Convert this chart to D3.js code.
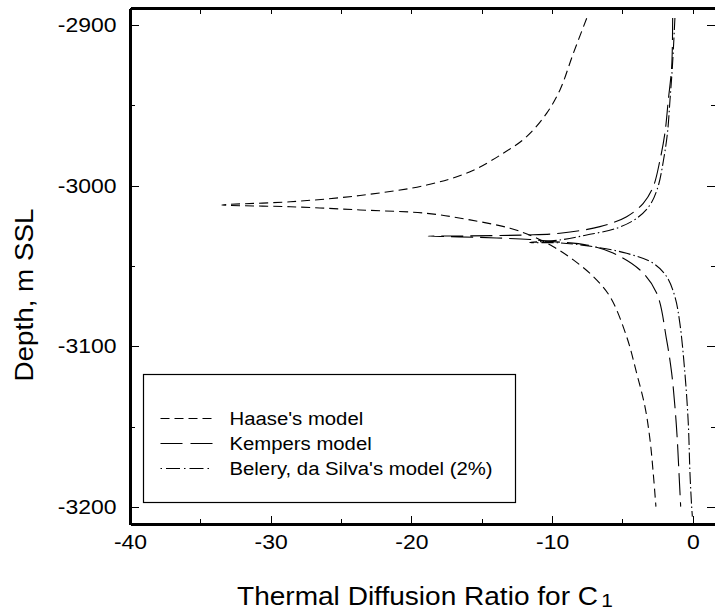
<!DOCTYPE html>
<meta charset="utf-8">
<html>

<head>
    <script src="https://cdn.jsdelivr.net/npm/d3@7"></script>
    <style>
        body {
            margin: 0;
            background: white;
            font-family: Arial, 'Liberation Sans', sans-serif;
        }

        .axis path,
        .axis line {
            stroke: black;
            shape-rendering: crispEdges;
        }

        .curve {
            fill: none;
            stroke: black;
            stroke-width: 1.1;
        }
    </style>
</head>

<body>
    <svg width="715" height="615"></svg>

    <script>
        // tick labels
        const xTicks = [-40, -30, -20, -10, 0];
        const xMinor = [-35, -25, -15, -5];
        const yTicks = [-2900, -3000, -3100, -3200];
        const yMinor = [-2950, -3050, -3150];

        // [thermal diffusion ratio, depth], top branch -> tip -> lower branch
        const haase = [
            [-7.54, -2895.8], [-8.49, -2917.6], [-9.44, -2940.4], [-10.38, -2954.8],
            [-11.81, -2969.5], [-13.47, -2979.8], [-15.83, -2991.3], [-18.91, -2999.6],
            [-23.65, -3006.1], [-28.6, -3010.0], [-33.48, -3012.0],
            [-28.6, -3013.1], [-23.65, -3015.1], [-18.91, -3017.2], [-15.83, -3021.3],
            [-12.99, -3026.5], [-11.34, -3031.7], [-9.91, -3038.0], [-8.49, -3046.2],
            [-7.07, -3056.6], [-5.88, -3069.1], [-4.70, -3094.0], [-3.99, -3116.7],
            [-3.40, -3137.5], [-3.04, -3158.2], [-2.81, -3179.0], [-2.62, -3199.8]
        ];
        const kempers = [
            [-1.43, -2895.6], [-1.50, -2926.0], [-1.74, -2946.7], [-1.98, -2967.2],
            [-2.33, -2984.0], [-2.81, -3000.6], [-3.52, -3011.0], [-4.70, -3019.3],
            [-6.60, -3025.5], [-9.44, -3029.6], [-11.81, -3030.7], [-16.55, -3031.3],
            [-18.8, -3031.4],
            [-15.12, -3032.2], [-11.57, -3033.5], [-9.94, -3034.8], [-7.54, -3036.9],
            [-5.67, -3041.9], [-3.75, -3052.5], [-2.57, -3066.8], [-1.86, -3096.0],
            [-1.50, -3116.7], [-1.27, -3137.5], [-1.10, -3158.2], [-0.98, -3179.0],
            [-0.86, -3199.8]
        ];
        const belery = [
            [-1.27, -2895.6], [-1.45, -2926.0], [-1.62, -2946.7], [-1.80, -2967.2],
            [-2.08, -2984.0], [-2.47, -3000.6], [-3.04, -3012.0], [-3.99, -3020.3],
            [-5.41, -3026.5], [-7.54, -3030.7], [-9.44, -3033.8], [-11.6, -3035.4],
            [-9.44, -3035.6], [-7.07, -3038.0], [-4.70, -3042.1], [-2.81, -3048.3],
            [-1.86, -3056.6], [-1.27, -3069.1], [-0.92, -3085.6], [-0.56, -3116.7],
            [-0.32, -3147.9], [-0.20, -3179.0], [-0.08, -3199.8], [-0.03, -3206.0]
        ];

        const seriesNames = ["Haase's model", "Kempers model", "Belery, da Silva's model (2%)"];
        const seriesData = [haase, kempers, belery];
        const dashes = ["9,5", "22,7", "12,3,1.5,3"];
        const legendDashes = ["9,5", "22,8", "1.5,4,14,4"];

        const svg = d3.select("svg");
        const width = +svg.attr("width");
        const height = +svg.attr("height");
        const margin = { top: 8, right: -1, bottom: 91, left: 130 };
        const innerWidth = width - margin.left - margin.right;
        const innerHeight = height - margin.top - margin.bottom;

        const xScale = d3.scaleLinear().domain([-40, 1.65]).range([0, innerWidth]);
        const yScale = d3.scaleLinear().domain([-3210.6, -2889.4]).range([innerHeight, 0]);

        const g = svg.append("g").attr("transform", `translate(${margin.left},${margin.top})`);

        const fmt = d => String(d);

        // frame and ticks
        function addAxis(axis, transform, keepDomain, keepText) {
            const a = g.append("g")
                .attr("class", "axis")
                .attr("transform", transform)
                .call(axis)
                .attr("font-family", "Arial, 'Liberation Sans', sans-serif")
                .attr("font-size", 20.5);
            if (!keepDomain) a.select(".domain").remove();
            if (!keepText) a.selectAll("text").remove();
            a.selectAll("text").attr("fill", "black");
            return a;
        }

        const bottomAxis = addAxis(d3.axisBottom(xScale).tickValues(xTicks).tickFormat(fmt)
            .tickSizeInner(-8).tickSizeOuter(0).tickPadding(10), `translate(0,${innerHeight})`, true, true);
        addAxis(d3.axisBottom(xScale).tickValues(xMinor).tickSizeInner(-5).tickSizeOuter(0),
            `translate(0,${innerHeight})`, false, false);
        addAxis(d3.axisTop(xScale).tickValues(xTicks.concat(xMinor)).tickSizeInner(-6).tickSizeOuter(0),
            null, true, false);

        const leftAxis = addAxis(d3.axisLeft(yScale).tickValues(yTicks).tickFormat(fmt)
            .tickSizeInner(-9).tickSizeOuter(0).tickPadding(12), null, true, true);
        addAxis(d3.axisLeft(yScale).tickValues(yMinor).tickSizeInner(-5).tickSizeOuter(0),
            null, false, false);
        addAxis(d3.axisRight(yScale).tickValues(yTicks).tickSizeInner(-9).tickSizeOuter(0),
            `translate(${innerWidth},0)`, false, false);
        addAxis(d3.axisRight(yScale).tickValues(yMinor).tickSizeInner(-5).tickSizeOuter(0),
            `translate(${innerWidth},0)`, false, false);

        // the original lettering is a little wider than Arial
        bottomAxis.selectAll("text").attr("transform", "scale(1.12,1)");
        leftAxis.selectAll("text").attr("transform", "scale(1.12,1)");

        g.selectAll(".axis .domain").attr("stroke-width", 2.5);

        // curves
        const lineGen = d3.line()
            .x(d => xScale(d[0]))
            .y(d => yScale(d[1]))
            .curve(d3.curveCatmullRom.alpha(0.5));

        seriesData.forEach((data, i) => {
            g.append("path")
                .datum(data)
                .attr("class", "curve")
                .attr("stroke-dasharray", dashes[i])
                .attr("d", lineGen);
        });

        // legend
        const legend = svg.append("g").attr("transform", "translate(143.5,374.5)");
        legend.append("rect")
            .attr("width", 372)
            .attr("height", 128)
            .attr("fill", "white")
            .attr("stroke", "black")
            .attr("stroke-width", 1.2);

        seriesNames.forEach((name, i) => {
            const y = 44 + i * 25;
            legend.append("line")
                .attr("x1", 17).attr("x2", 69)
                .attr("y1", y).attr("y2", y)
                .attr("stroke", "black")
                .attr("stroke-width", 1.1)
                .attr("stroke-dasharray", legendDashes[i]);
            legend.append("text")
                .attr("transform", `translate(86,${y}) scale(1.07,1)`)
                .attr("dy", "0.36em")
                .attr("font-size", "19px")
                .text(name);
        });

        // axis titles
        const xTitle = svg.append("text")
            .attr("transform", "translate(237,605) scale(1.1,1)")
            .attr("font-size", "25.5px")
            .text("Thermal Diffusion Ratio for C");
        xTitle.append("tspan")
            .attr("dx", 3)
            .attr("dy", 2)
            .attr("font-size", "19px")
            .text("1");

        svg.append("text")
            .attr("transform", "translate(33,295) rotate(-90) scale(1.05,1)")
            .attr("text-anchor", "middle")
            .attr("font-size", "26.5px")
            .text("Depth, m SSL");
    </script>
</body>

</html>
